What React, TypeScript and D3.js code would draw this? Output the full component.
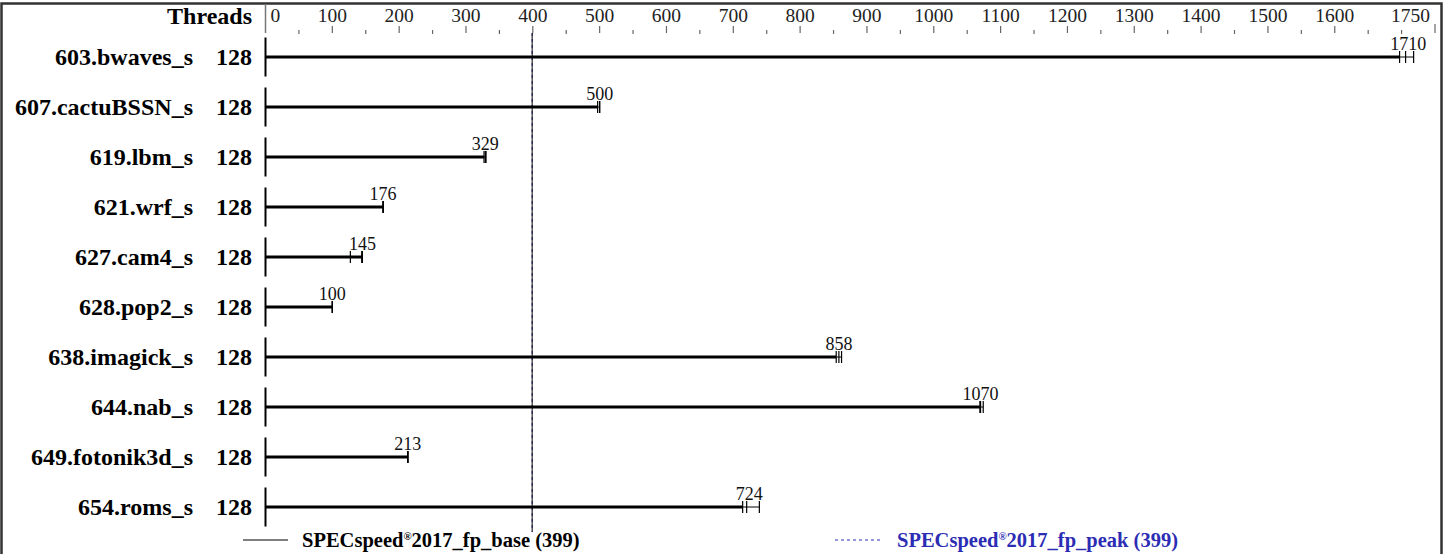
import React, { useEffect, useRef } from 'react';
import * as d3 from 'd3';

const benchmarks = [
  '603.bwaves_s', '607.cactuBSSN_s', '619.lbm_s', '621.wrf_s', '627.cam4_s',
  '628.pop2_s', '638.imagick_s', '644.nab_s', '649.fotonik3d_s', '654.roms_s',
];
const threads = [128, 128, 128, 128, 128, 128, 128, 128, 128, 128];
const medians = [1710, 500, 329, 176, 145, 100, 858, 1070, 213, 724];
// three runs per benchmark; the thick bar runs to the first one
const runs = [
  [1697, 1706, 1718],
  [497, 500, 500],
  [327, 329, 330],
  [176, 176, 176],
  [145, 127, 144],
  [100, 100, 100],
  [854, 858, 862],
  [1069, 1070, 1074],
  [213, 213, 213],
  [714, 720, 739],
];
const majorTicks = [0, 100, 200, 300, 400, 500, 600, 700, 800, 900, 1000, 1100, 1200, 1300, 1400, 1500, 1600, 1750];
const minorTicks = [50, 150, 250, 350, 450, 550, 650, 750, 850, 950, 1050, 1150, 1250, 1350, 1450, 1550, 1650, 1700];
const baseScore = 399;
const peakScore = 399;
const baseLabel = 'SPECspeed';
const baseSuffix = '2017_fp_base';
const peakSuffix = '2017_fp_peak';

const W = 1450;
const H = 554;
const SERIF = '"Liberation Serif", "Times New Roman", serif';
const PEAK_BLUE = '#2c2cb4';

const App: React.FC = () => {
  const svgRef = useRef<SVGSVGElement>(null);

  useEffect(() => {
    if (!svgRef.current) return;
    document.body.style.margin = '0';
    const svg = d3.select(svgRef.current);
    svg.selectAll('*').remove();

    const x = d3.scaleLinear().domain([0, 1750]).range([265.5, 1435]);
    const y = d3.scaleBand()
      .domain(benchmarks)
      .range([32, 532])
      .paddingInner(0);
    const yc = (b: string) => (y(b) || 0) + y.bandwidth() / 2;

    // frame
    svg.append('rect')
      .attr('x', 1.5).attr('y', 3.5)
      .attr('width', 1440).attr('height', 600)
      .attr('fill', 'none')
      .attr('stroke', '#333')
      .attr('stroke-width', 2.5);

    // top axis
    const axisG = svg.append('g');
    axisG.append('line')
      .attr('x1', x(0)).attr('x2', x(0))
      .attr('y1', 4).attr('y2', 33)
      .attr('stroke', '#777').attr('stroke-width', 1.5);

    axisG.selectAll('.major')
      .data(majorTicks.filter(t => t > 0))
      .enter().append('line')
      .attr('x1', d => x(d)).attr('x2', d => x(d))
      .attr('y1', d => (d === 1750 ? 24 : 26)).attr('y2', 33)
      .attr('stroke', '#666').attr('stroke-width', 1.2);

    axisG.selectAll('.minor')
      .data(minorTicks)
      .enter().append('line')
      .attr('x1', d => x(d)).attr('x2', d => x(d))
      .attr('y1', 30).attr('y2', 34)
      .attr('stroke', '#666').attr('stroke-width', 1.2);

    axisG.selectAll('.ticklabel')
      .data(majorTicks)
      .enter().append('text')
      .attr('x', d => (d === 0 ? x(d) + 5 : d === 1750 ? x(d) - 5 : x(d)))
      .attr('y', 22)
      .attr('text-anchor', d => (d === 0 ? 'start' : d === 1750 ? 'end' : 'middle'))
      .attr('font-family', SERIF)
      .attr('font-size', '19.5px')
      .attr('fill', '#222')
      .text(d => d);

    svg.append('text')
      .attr('x', 252).attr('y', 24)
      .attr('text-anchor', 'end')
      .attr('font-family', SERIF)
      .attr('font-size', '24px')
      .attr('font-weight', 'bold')
      .text('Threads');

    // reference lines (peak dashed under base solid)
    svg.append('line')
      .attr('x1', x(peakScore)).attr('x2', x(peakScore))
      .attr('y1', 33).attr('y2', 532)
      .attr('stroke', PEAK_BLUE).attr('stroke-width', 1)
      .attr('stroke-dasharray', '3,3');
    svg.append('line')
      .attr('x1', x(baseScore)).attr('x2', x(baseScore))
      .attr('y1', 33).attr('y2', 532)
      .attr('stroke', '#000').attr('stroke-width', 1);

    // rows
    const rowG = svg.selectAll('.row')
      .data(benchmarks)
      .enter().append('g')
      .attr('class', 'row');

    rowG.append('text')
      .attr('x', 193)
      .attr('y', d => yc(d) + 8)
      .attr('text-anchor', 'end')
      .attr('font-family', SERIF)
      .attr('font-size', '24px')
      .attr('font-weight', 'bold')
      .text(d => d);

    rowG.append('text')
      .attr('x', 252)
      .attr('y', d => yc(d) + 8)
      .attr('text-anchor', 'end')
      .attr('font-family', SERIF)
      .attr('font-size', '24px')
      .attr('font-weight', 'bold')
      .text((d, i) => threads[i]);

    rowG.append('line')
      .attr('x1', x(0)).attr('x2', x(0))
      .attr('y1', d => yc(d) - 19.5).attr('y2', d => yc(d) + 19.5)
      .attr('stroke', '#000').attr('stroke-width', 2);

    // thick bar
    rowG.append('line')
      .attr('x1', x(0))
      .attr('x2', (d, i) => x(runs[i][0]))
      .attr('y1', d => yc(d)).attr('y2', d => yc(d))
      .attr('stroke', '#000').attr('stroke-width', 3);

    // thin run range
    rowG.append('line')
      .attr('x1', (d, i) => x(d3.min(runs[i]) || 0))
      .attr('x2', (d, i) => x(d3.max(runs[i]) || 0))
      .attr('y1', d => yc(d)).attr('y2', d => yc(d))
      .attr('stroke', '#000').attr('stroke-width', 1);

    // run ticks
    rowG.each(function (d, i) {
      d3.select(this).selectAll('.run')
        .data(runs[i])
        .enter().append('line')
        .attr('x1', v => x(v)).attr('x2', v => x(v))
        .attr('y1', yc(d) - 6).attr('y2', yc(d) + 6)
        .attr('stroke', '#000').attr('stroke-width', 1.2);
    });

    rowG.append('text')
      .attr('x', (d, i) => x(medians[i]))
      .attr('y', d => yc(d) - 7)
      .attr('text-anchor', 'middle')
      .attr('font-family', SERIF)
      .attr('font-size', '18px')
      .attr('fill', '#111')
      .text((d, i) => medians[i]);

    // legend
    const legend = [
      { x1: 243, x2: 288, tx: 302, suffix: baseSuffix, score: baseScore, color: '#000', dash: null },
      { x1: 835, x2: 880, tx: 897, suffix: peakSuffix, score: peakScore, color: PEAK_BLUE, dash: '3,3' },
    ];
    const legG = svg.selectAll('.leg')
      .data(legend)
      .enter().append('g');
    legG.append('line')
      .attr('x1', d => d.x1).attr('x2', d => d.x2)
      .attr('y1', 540).attr('y2', 540)
      .attr('stroke', d => d.color).attr('stroke-width', 1)
      .attr('stroke-dasharray', d => d.dash);
    const lt = legG.append('text')
      .attr('x', d => d.tx).attr('y', 547)
      .attr('font-family', SERIF)
      .attr('font-size', '20.5px')
      .attr('font-weight', 'bold')
      .attr('fill', d => d.color);
    lt.append('tspan').text(baseLabel);
    lt.append('tspan').attr('font-size', '11px').attr('dy', -7).text('®');
    lt.append('tspan').attr('dy', 7).text(d => `${d.suffix} (${d.score})`);
  }, []);

  return (
    <svg
      ref={svgRef}
      width={W}
      height={H}
      style={{ position: 'absolute', left: 0, top: 0, background: '#fff' }}
    />
  );
};

export default App;
